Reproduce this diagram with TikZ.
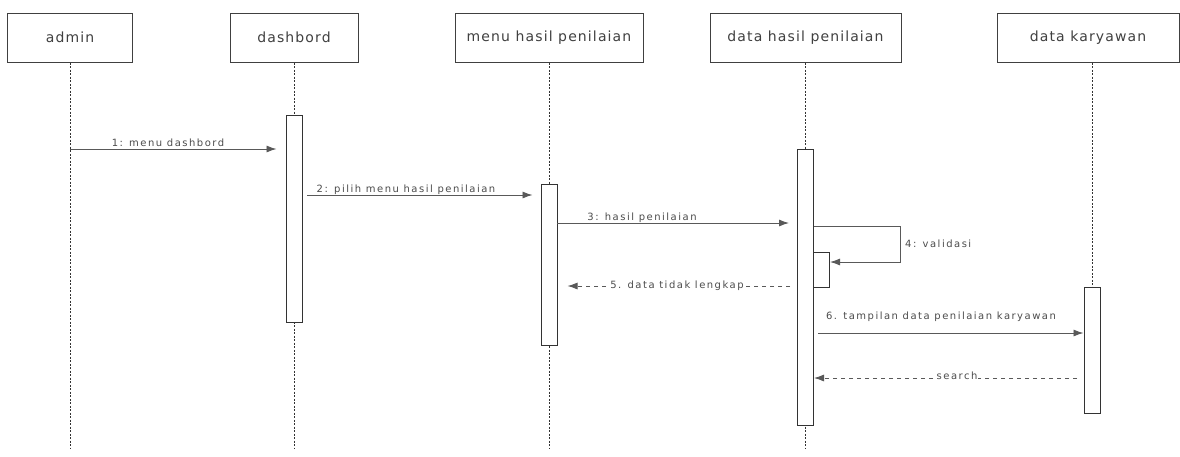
\documentclass[tikz,border=0pt]{standalone}
\usepackage{fontspec}
\setmainfont{DejaVu Sans}
\newfontfamily\titlefont[LetterSpace=8]{DejaVu Sans}
\newfontfamily\msgfont[LetterSpace=15]{DejaVu Sans}
\usetikzlibrary{arrows.meta}

\begin{document}
\begin{tikzpicture}[
  x=1pt, y=-1pt,
  obj/.style={draw=black!75, fill=white, line width=1pt, minimum height=49pt, inner sep=0pt, font=\titlefont\fontsize{14}{16}\selectfont, text=black!75},
  act/.style={draw=black!80, fill=white, line width=1pt, minimum width=16pt, inner sep=0pt},
  life/.style={draw=black!80, line width=0.8pt, dash pattern=on 2pt off 1.5pt},
  msg/.style={draw=black!65, line width=0.9pt, -{Latex[length=10pt,width=7pt]}},
  reply/.style={msg, dash pattern=on 4pt off 4pt},
  lbl/.style={font=\msgfont\fontsize{10}{12}\selectfont, text=black!70, inner sep=1pt}
]
\fill[white] (0,0) rectangle (1180,456);
\useasboundingbox (0,0) rectangle (1180,456);

% objects
\node[obj, minimum width=125pt] (admin) at (70,37.5) {admin};
\node[obj, minimum width=128pt] (dash) at (294,37.5) {dashbord};
\node[obj, minimum width=188pt] (menu) at (549,37.5) {menu hasil penilaian};
\node[obj, minimum width=191pt] (hasil) at (805.5,37.5) {data hasil penilaian};
\node[obj, minimum width=182pt] (karyawan) at (1088,37.5) {data karyawan};

% lifelines
\coordinate (adminEnd) at (70,448);
\coordinate (dashEnd) at (294,448);
\coordinate (menuEnd) at (549,448);
\coordinate (hasilEnd) at (805.5,448);
\coordinate (karEnd) at (1092,413);
\draw[life] (admin.south) -- (adminEnd);
\draw[life] (dash.south) -- (dashEnd);
\draw[life] (menu.south) -- (menuEnd);
\draw[life] (hasil.south) -- (hasilEnd);
\draw[life] (karyawan.south -| karEnd) -- (karEnd);

% activations
\node[act, minimum height=207pt] (actDash) at (294,218.5) {};
\node[act, minimum height=161pt] (actMenu) at (549,264.5) {};
\node[act, minimum height=276pt] (actHasil) at (805.5,287) {};
\node[act, minimum height=35pt] (actSelf) at (821.5,269.5) {};
\node[act, minimum height=126pt] (actKar) at (1092,350) {};

% messages
\coordinate (m1) at (70,149);
\coordinate (m2) at (307,195);
\coordinate (m3) at (557,223);
\coordinate (s1) at (813.5,226);
\coordinate (s2) at (900,226);
\coordinate (s3) at (900,262);
\coordinate (r5) at (790,286);
\coordinate (m6) at (818,333);
\coordinate (r7) at (1077,378);

\draw[msg, shorten >=9pt] (m1) -- (actDash.west |- m1);
\draw[msg, shorten >=8pt] (m2) -- (actMenu.west |- m2);
\draw[msg, shorten >=8pt] (m3) -- (actHasil.west |- m3);
\draw[msg] (s1) -- (s2) -- (s3) -- (actSelf.east |- s3);
\draw[reply, shorten >=10pt] (r5) -- (actMenu.east |- r5);
\draw[msg] (m6) -- (actKar.west |- m6);
\draw[reply] (r7) -- (actHasil.east |- r7);

% labels
\node[lbl, anchor=base] (l1) at (168,146) {1: menu dashbord};
\node[lbl, anchor=base] (l2) at (406,192) {2: pilih menu hasil penilaian};
\node[lbl, anchor=base] (l3) at (642,220) {3: hasil penilaian};
\node[lbl, anchor=west] (l4) at (904,244) {4: validasi};
\node[lbl, anchor=base, fill=white] (l5) at (677,288) {5. data tidak lengkap};
\node[lbl, anchor=base] (l6) at (941,319) {6. tampilan data penilaian karyawan};
\node[lbl, anchor=base, fill=white] (l7) at (957,379) {search};
\end{tikzpicture}
\end{document}
